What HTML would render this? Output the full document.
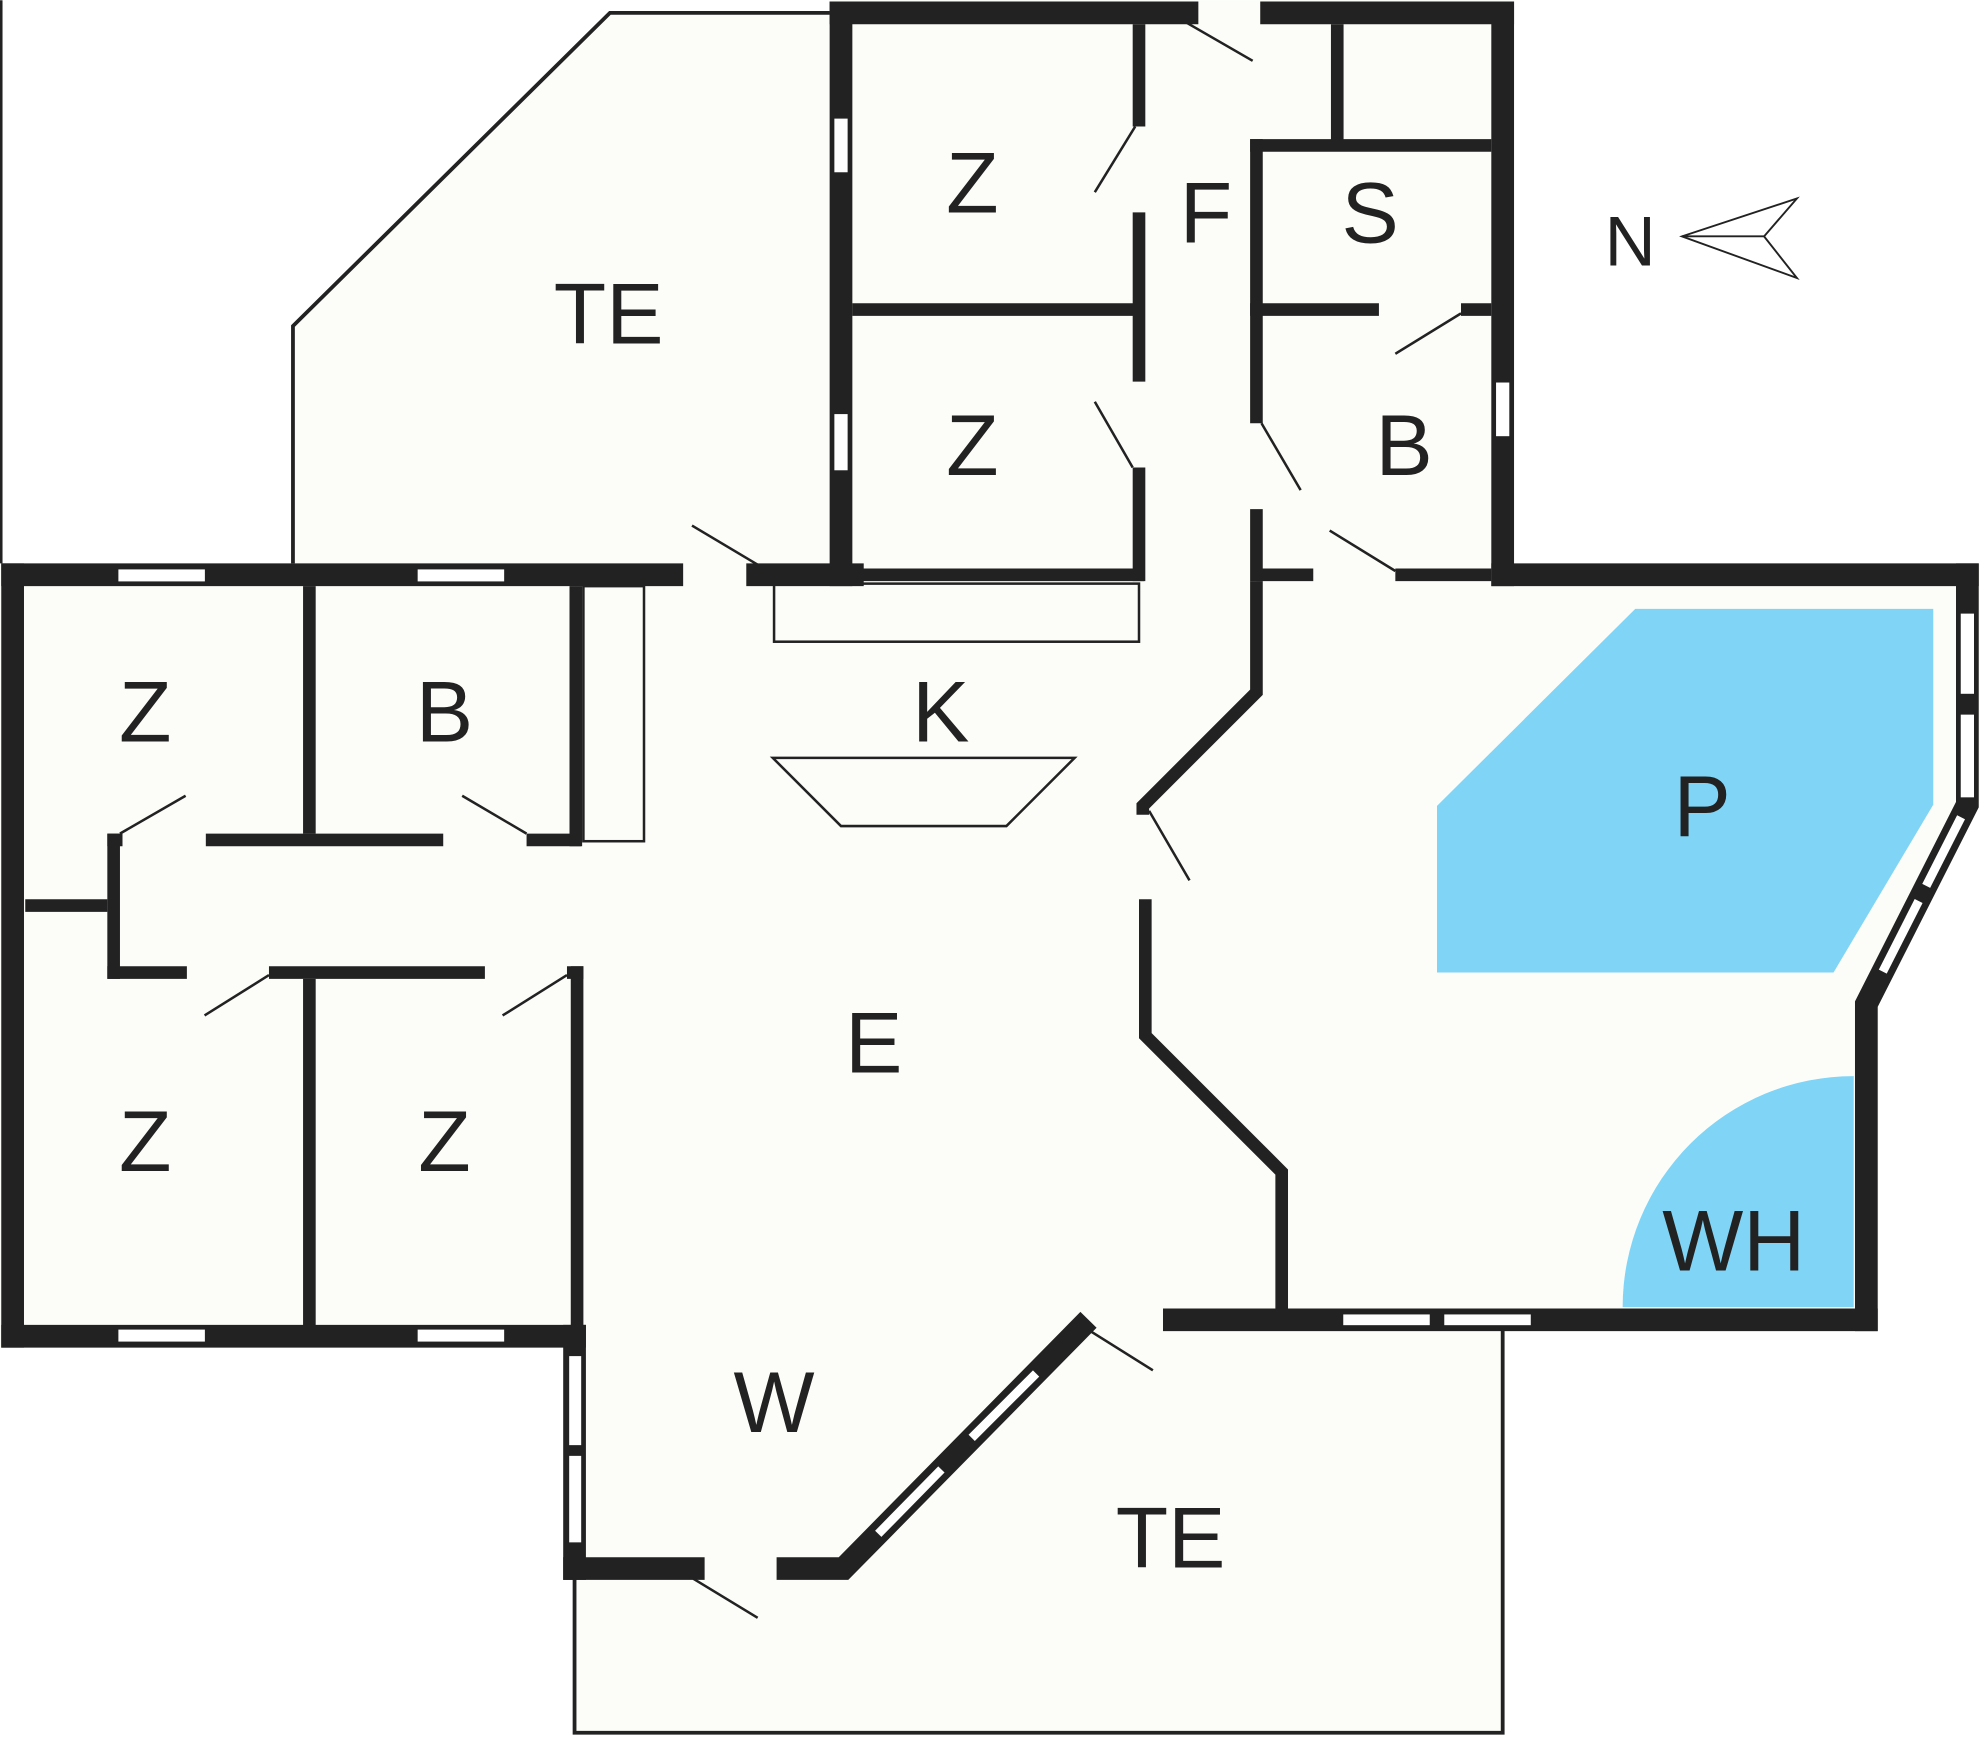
<!DOCTYPE html>
<html><head><meta charset="utf-8"><style>
html,body{margin:0;padding:0;background:#fff;}
svg{display:block;}
text{font-family:"Liberation Sans",sans-serif;font-size:68px;fill:#222;text-anchor:middle;}
</style></head><body>
<svg width="1980" height="1738" viewBox="0 0 1568 1376" xmlns="http://www.w3.org/2000/svg">
<g fill="#fcfdf8" stroke="none">
<polygon points="232,455 232,258 483,10 657,10 657,455"/>
<rect x="657" y="0" width="542" height="464"/>
<polygon points="0,446 1568,446 1568,637 1488,795 1488,1053 1190,1053 1190,1372 455,1372 455,1067 0,1067"/>
</g>
<polygon points="1295,482 1531,482 1531,637 1452,770 1138,770 1138,638" fill="#80d4f6"/>
<path d="M1468,852 A183,183 0 0 0 1285,1035 L1468,1035 Z" fill="#80d4f6"/>
<g fill="none" stroke="#222" stroke-width="3">
<polyline points="232,446 232,258 483,10 657,10"/>
<polyline points="455,1250 455,1372 1190,1372 1190,1053"/>
<rect x="613" y="462" width="289" height="46" stroke-width="2"/>
<rect x="462" y="464" width="48" height="202" stroke-width="2"/>
<polygon points="612,600 851,600 797,654 666,654" stroke-width="2"/>
<line x1="1" y1="0" x2="1" y2="446" stroke-width="2"/>
</g>
<g stroke="#222" stroke-width="2" fill="none">
<line x1="940" y1="18" x2="992" y2="48"/>
<line x1="867" y1="152" x2="899" y2="100"/>
<line x1="867" y1="318" x2="897" y2="370"/>
<line x1="1105" y1="280" x2="1157" y2="248"/>
<line x1="999" y1="335" x2="1030" y2="388"/>
<line x1="1053" y1="420" x2="1105" y2="452"/>
<line x1="548" y1="416" x2="600" y2="447"/>
<line x1="95" y1="660" x2="147" y2="630"/>
<line x1="366" y1="630" x2="417" y2="660"/>
<line x1="162" y1="804" x2="213" y2="772"/>
<line x1="398" y1="804" x2="449" y2="772"/>
<line x1="910" y1="642" x2="942" y2="697"/>
<line x1="862" y1="1053" x2="913" y2="1085"/>
<line x1="549" y1="1250" x2="600" y2="1281"/>
</g>
<g stroke="#222" fill="none" stroke-linecap="square">
<g stroke-width="18">
<line x1="666" y1="10" x2="940" y2="10"/>
<line x1="1007" y1="10" x2="1190" y2="10"/>
<line x1="666" y1="10" x2="666" y2="455"/>
<line x1="1190" y1="10" x2="1190" y2="455"/>
<line x1="10" y1="455" x2="532" y2="455"/>
<line x1="600" y1="455" x2="675" y2="455"/>
<line x1="1190" y1="455" x2="1558" y2="455"/>
<polyline points="1558,455 1558,637 1478,795 1478,1045"/>
<line x1="930" y1="1045" x2="1478" y2="1045"/>
<line x1="10" y1="455" x2="10" y2="1058"/>
<line x1="10" y1="1058" x2="455" y2="1058"/>
<line x1="455" y1="1058" x2="455" y2="1242"/>
<line x1="455" y1="1242" x2="549" y2="1242"/>
<polyline points="615,1242 668,1242 862,1045" stroke-linecap="butt"/>
</g>
<g stroke-width="10" stroke-linecap="butt">
<line x1="902" y1="19" x2="902" y2="100"/>
<line x1="902" y1="168" x2="902" y2="302"/>
<line x1="902" y1="370" x2="902" y2="460"/>
<line x1="675" y1="245" x2="898" y2="245"/>
<line x1="675" y1="455" x2="906" y2="455"/>
<line x1="1059" y1="19" x2="1059" y2="112"/>
<line x1="990" y1="115" x2="1181" y2="115"/>
<line x1="995" y1="110" x2="995" y2="245"/>
<line x1="990" y1="245" x2="1092" y2="245"/>
<line x1="1157" y1="245" x2="1181" y2="245"/>
<line x1="995" y1="245" x2="995" y2="335"/>
<line x1="995" y1="403" x2="995" y2="460"/>
<line x1="995" y1="455" x2="1040" y2="455"/>
<line x1="1105" y1="455" x2="1181" y2="455"/>
<polyline points="995,460 995,548 905,638 905,645"/>
<polyline points="907,712 907,820 1015,928 1015,1040"/>
<line x1="245" y1="464" x2="245" y2="660"/>
<line x1="163" y1="665" x2="351" y2="665"/>
<line x1="417" y1="665" x2="460" y2="665"/>
<line x1="85" y1="665" x2="97" y2="665"/>
<line x1="90" y1="660" x2="90" y2="775"/>
<line x1="20" y1="717" x2="85" y2="717"/>
<line x1="456" y1="464" x2="456" y2="670"/>
<line x1="85" y1="770" x2="148" y2="770"/>
<line x1="213" y1="770" x2="384" y2="770"/>
<line x1="449" y1="770" x2="462" y2="770"/>
<line x1="245" y1="775" x2="245" y2="1050"/>
<line x1="457" y1="765" x2="457" y2="1050"/>
</g>
</g>
<g fill="#fff" stroke="#222" stroke-width="1.5">
<rect x="660" y="93" width="12" height="44"/>
<rect x="660" y="327" width="12" height="46"/>
<rect x="1184" y="302" width="12" height="44"/>
<rect x="93" y="450" width="70" height="11"/>
<rect x="330" y="450" width="70" height="11"/>
<rect x="1552" y="485" width="12" height="65"/>
<rect x="1552" y="565" width="12" height="67"/>
<rect x="1063" y="1040" width="70" height="10"/>
<rect x="1143" y="1040" width="70" height="10"/>
<rect x="93" y="1052" width="70" height="11"/>
<rect x="330" y="1052" width="70" height="11"/>
<rect x="450" y="1073" width="11" height="72"/>
<rect x="450" y="1152" width="11" height="70"/>
</g>
<!-- diagonal windows -->
<g stroke-linecap="butt">
<g stroke="#222" stroke-width="10">
<line x1="1554" y1="645" x2="1524.4" y2="703.4"/>
<line x1="1520.4" y1="711.3" x2="1490" y2="771.3"/>
<line x1="694" y1="1216" x2="747" y2="1162"/>
<line x1="768" y1="1140" x2="822" y2="1086"/>
</g>
<g stroke="#fff" stroke-width="7">
<line x1="1553" y1="647" x2="1525.4" y2="701.4"/>
<line x1="1519.4" y1="713.3" x2="1491" y2="769.3"/>
<line x1="695.5" y1="1214.5" x2="745.5" y2="1163.5"/>
<line x1="769.5" y1="1138.5" x2="820.5" y2="1087.5"/>
</g>
</g>
<g fill="#fff" stroke="#222" stroke-width="1.5">
<polygon points="1332,187 1423,157 1397,187 1423,220"/>
<line x1="1332" y1="187" x2="1397" y2="187"/>
</g>
<text x="770" y="168">Z</text>
<text x="770" y="376">Z</text>
<text x="482" y="272">TE</text>
<text x="955" y="192">F</text>
<text x="1085" y="192">S</text>
<text x="1112" y="376">B</text>
<text x="115" y="587">Z</text>
<text x="352" y="587">B</text>
<text x="745" y="587">K</text>
<text x="1348" y="662">P</text>
<text x="692" y="849">E</text>
<text x="115" y="927">Z</text>
<text x="352" y="927">Z</text>
<text x="1373" y="1006">WH</text>
<text x="613" y="1134">W</text>
<text x="927" y="1241">TE</text>
<text x="1291" y="210" style="font-size:56px">N</text>
</svg>
</body></html>
